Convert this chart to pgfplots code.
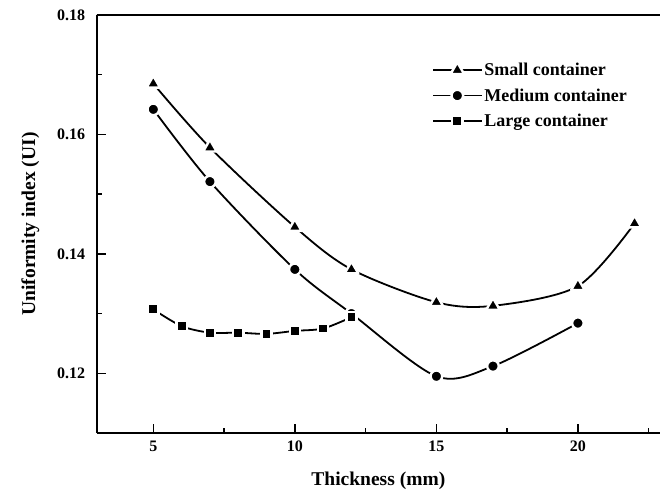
\documentclass[border=0pt]{standalone}
\usepackage{fontspec}
\setmainfont{Liberation Serif}
\usepackage{pgfplots}
\pgfplotsset{compat=1.18}
\begin{document}
\begin{tikzpicture}
\begin{axis}[
  scale only axis, width=563.3pt, height=418pt,
  xmin=3, xmax=22.9, ymin=0.11, ymax=0.18,
  axis x line*=bottom, axis y line*=left,
  axis line style={line width=2pt, black},
  xtick={5,10,15,20}, minor xtick={7.5,12.5,17.5,22.5},
  ytick={0.12,0.14,0.16,0.18}, minor ytick={0.13,0.15,0.17},
  tick align=inside, major tick length=9pt, minor tick length=5pt,
  tick style={line width=1.5pt, black},
  /pgf/number format/assume math mode=true,
  yticklabel style={/pgf/number format/fixed, /pgf/number format/precision=2, /pgf/number format/fixed zerofill, font=\fontsize{16}{18}\selectfont\bfseries, xshift=-8pt},
  xticklabel style={font=\fontsize{16}{18}\selectfont\bfseries, yshift=-4pt},
  xlabel={Thickness (mm)}, ylabel={Uniformity index (UI)},
  xlabel shift=14pt, ylabel shift=11pt,
  label style={font=\fontsize{19.5}{22}\selectfont\bfseries},
  legend style={at={(0.59,0.895)}, anchor=north west, draw=none, fill=none, font=\fontsize{18}{21}\selectfont\bfseries, row sep=7.5pt},
  legend cell align=left,
  legend image code/.code={\draw[mark repeat=2, mark phase=2, #1] plot coordinates {(0cm,0cm) (0.85cm,0cm) (1.7cm,0cm)};},
  every axis plot/.append style={black, line width=1.8pt, smooth, tension=0.5},
  clip=false,
]
\coordinate (O) at (rel axis cs:0,0);
\draw[line width=2pt] (rel axis cs:0,1) -- (rel axis cs:1,1);
\addplot[mark=triangle*, mark size=7.8pt, mark options={fill=black, draw=white, line width=2.4pt, line join=round}] coordinates {
(5,0.1685) (7,0.1578) (10,0.1445) (12,0.1374) (15,0.1319) (17,0.1313) (20,0.1346) (22,0.1451)};
\addlegendentry{Small container}
\addplot[mark=*, mark size=5.8pt, mark options={fill=black, draw=white, line width=2.4pt}] coordinates {
(5,0.1642) (7,0.1521) (10,0.1374) (12,0.1300) (15,0.1195) (17,0.1212) (20,0.1284)};
\addlegendentry{Medium container}
\addplot[mark=square*, mark size=5.1pt, mark options={fill=black, draw=white, line width=2.4pt}] coordinates {
(5,0.1307) (6,0.1279) (7,0.1268) (8,0.1268) (9,0.1266) (10,0.1271) (11,0.1275) (12,0.1294)};
\addlegendentry{Large container}
\end{axis}
\pgfresetboundingbox
\path[use as bounding box] (O) ++(-96.7pt,-57pt) rectangle ++(660pt,490pt);
\end{tikzpicture}
\end{document}
